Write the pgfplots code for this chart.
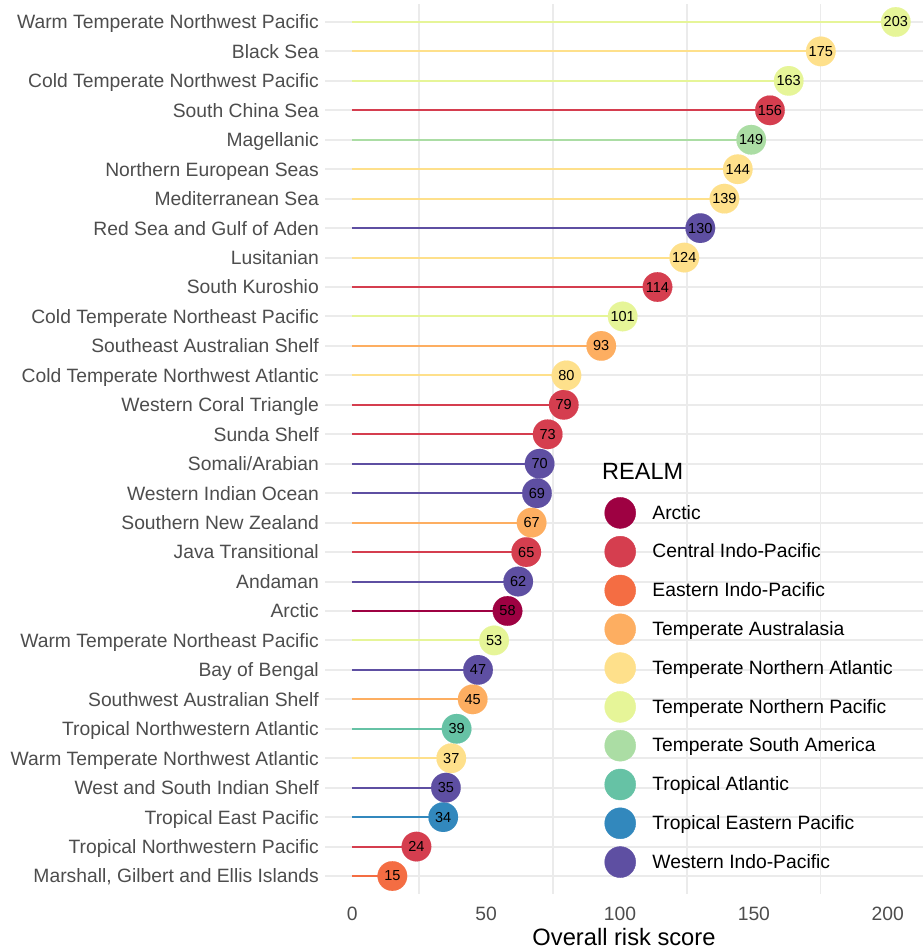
\documentclass[border=0pt]{standalone}
\usepackage{fontspec}
\setmainfont{Liberation Sans}
\usepackage{pgfplots}
\pgfplotsset{compat=1.18}
\definecolor{c1}{HTML}{9E0142}
\definecolor{c2}{HTML}{D53E4F}
\definecolor{c3}{HTML}{F46D43}
\definecolor{c4}{HTML}{FDAE61}
\definecolor{c5}{HTML}{FEE08B}
\definecolor{c6}{HTML}{E6F598}
\definecolor{c7}{HTML}{ABDDA4}
\definecolor{c8}{HTML}{66C2A5}
\definecolor{c9}{HTML}{3288BD}
\definecolor{c10}{HTML}{5E4FA2}
\definecolor{gridgray}{HTML}{EBEBEB}
\definecolor{txtgray}{HTML}{4D4D4D}
\pgfplotsset{
  /pgf/number format/assume math mode=true,
  lolli/.style={xcomb, color=#1, line width=2bp, mark=*, mark size=14.8bp,
    mark options={fill=#1, draw=#1, line width=0.1pt},
    point meta=x, nodes near coords,
    nodes near coords style={anchor=center, inner sep=0pt, text=black,
      font=\fontsize{14.5bp}{15bp}\selectfont},
    forget plot}
}
\begin{document}
\begin{tikzpicture}
\useasboundingbox (0,0) rectangle (923bp,950bp);
\begin{axis}[
  at={(325bp,56.3bp)}, anchor=south west,
  scale only axis, width=598bp, height=889.4bp,
  xmin=-10.15, xmax=213.15, ymin=0.4, ymax=30.6,
  clip=false,
  axis line style={draw=none},
  major tick length=0pt, minor tick length=0pt,
  tick style={draw=none},
  xtick={0,50,100,150,200},
  minor xtick={25,75,125,175},
  xminorgrids,
  minor grid style={color=gridgray, line width=1.3bp},
  ytick={1,...,30},
  ymajorgrids,
  major grid style={color=gridgray, line width=2bp},
  yticklabels={{Marshall, Gilbert and Ellis Islands},Tropical Northwestern Pacific,Tropical East Pacific,West and South Indian Shelf,Warm Temperate Northwest Atlantic,Tropical Northwestern Atlantic,Southwest Australian Shelf,Bay of Bengal,Warm Temperate Northeast Pacific,Arctic,Andaman,Java Transitional,Southern New Zealand,Western Indian Ocean,Somali/Arabian,Sunda Shelf,Western Coral Triangle,Cold Temperate Northwest Atlantic,Southeast Australian Shelf,Cold Temperate Northeast Pacific,South Kuroshio,Lusitanian,Red Sea and Gulf of Aden,Mediterranean Sea,Northern European Seas,Magellanic,South China Sea,Cold Temperate Northwest Pacific,Black Sea,Warm Temperate Northwest Pacific},
  yticklabel style={anchor=base east, inner sep=0pt, xshift=-6bp, yshift=-6.9bp, text=txtgray, font=\fontsize{19.3bp}{20bp}\selectfont},
  xticklabel style={anchor=base, inner sep=0pt, yshift=-27bp, text=txtgray, font=\fontsize{19.3bp}{20bp}\selectfont},
  xlabel={Overall risk score},
  xlabel style={at={(0.5,0)}, anchor=base, inner sep=0pt, yshift=-51.8bp, text=black, font=\fontsize{23.7bp}{24bp}\selectfont},
  legend style={at={(0.4674,0.4458)}, anchor=north west, draw=none, fill=none,
    inner sep=0pt, outer sep=0pt, row sep=7.4bp, column sep=16.5bp,
    nodes={inner sep=0pt}, font=\fontsize{19.3bp}{20bp}\selectfont, text=black},
  legend cell align=left,
  legend image code/.code={\fill (0bp,0bp) circle (15.5bp);},
]
% segments + points by realm
\addplot[lolli=c1] coordinates {(58,10)};
\addplot[lolli=c2] coordinates {(156,27) (114,21) (79,17) (73,16) (65,12) (24,2)};
\addplot[lolli=c3] coordinates {(15,1)};
\addplot[lolli=c4] coordinates {(93,19) (67,13) (45,7)};
\addplot[lolli=c5] coordinates {(175,29) (144,25) (139,24) (124,22) (80,18) (37,5)};
\addplot[lolli=c6] coordinates {(203,30) (163,28) (101,20) (53,9)};
\addplot[lolli=c7] coordinates {(149,26)};
\addplot[lolli=c8] coordinates {(39,6)};
\addplot[lolli=c9] coordinates {(34,3)};
\addplot[lolli=c10] coordinates {(130,23) (70,15) (69,14) (62,11) (47,8) (35,4)};
\addlegendimage{color=c1}\addlegendentry{Arctic}
\addlegendimage{color=c2}\addlegendentry{Central Indo-Pacific}
\addlegendimage{color=c3}\addlegendentry{Eastern Indo-Pacific}
\addlegendimage{color=c4}\addlegendentry{Temperate Australasia}
\addlegendimage{color=c5}\addlegendentry{Temperate Northern Atlantic}
\addlegendimage{color=c6}\addlegendentry{Temperate Northern Pacific}
\addlegendimage{color=c7}\addlegendentry{Temperate South America}
\addlegendimage{color=c8}\addlegendentry{Tropical Atlantic}
\addlegendimage{color=c9}\addlegendentry{Tropical Eastern Pacific}
\addlegendimage{color=c10}\addlegendentry{Western Indo-Pacific}
\end{axis}
\node[anchor=base west, inner sep=0pt, font=\fontsize{23.5bp}{24bp}\selectfont] at (602bp,470.7bp) {REALM};
\end{tikzpicture}
\end{document}
